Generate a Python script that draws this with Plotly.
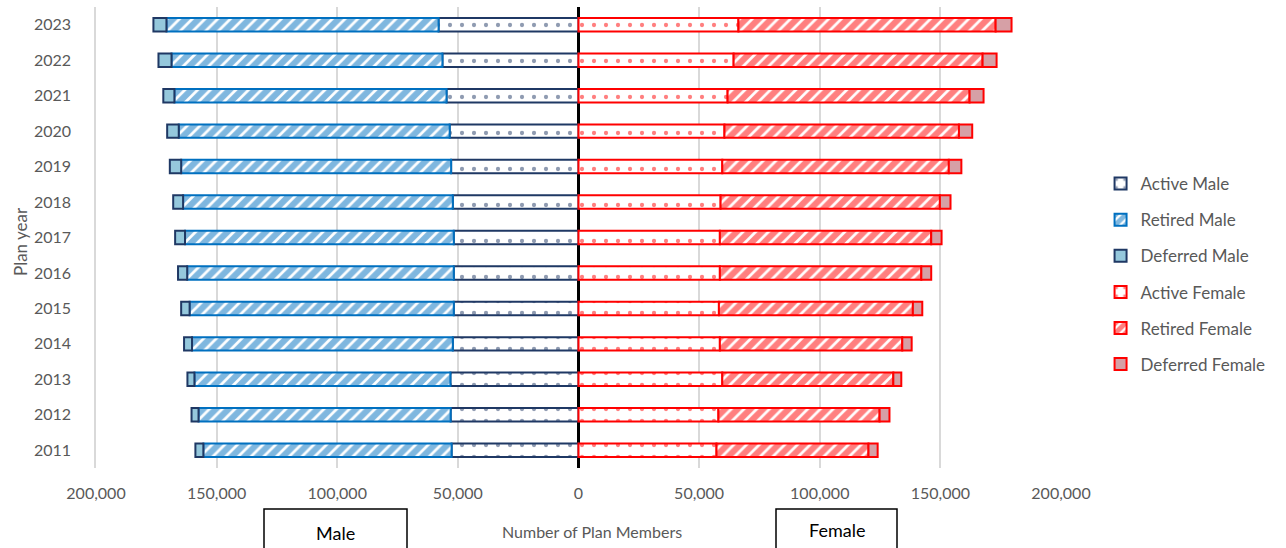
import plotly.graph_objects as go

# Plan years (bottom to top)
years = [str(y) for y in range(2011, 2024)]

# Plan members by status and sex
male_active = [52600, 53000, 53100, 52100, 51700, 51700, 51700, 52100, 52800, 53400, 54700, 56400, 58000]
male_retired = [102900, 104500, 106100, 108100, 109500, 110500, 111400, 111800, 111900, 112300, 112800, 112300, 112800]
male_deferred = [3300, 2900, 2900, 3300, 3500, 3800, 4100, 4100, 4700, 4800, 4600, 5400, 5400]

female_active = [57200, 58000, 59600, 58600, 58200, 58600, 58600, 58900, 59600, 60500, 61800, 64300, 66300]
female_retired = [63000, 66800, 70900, 75600, 80400, 83500, 87600, 90900, 93900, 97200, 100300, 103200, 106600]
female_deferred = [3800, 4100, 3300, 3900, 3900, 4100, 4300, 4400, 5200, 5500, 5800, 5800, 6600]

tick_vals = [-200000, -150000, -100000, -50000, 0, 50000, 100000, 150000, 200000]
tick_text = ["200,000", "150,000", "100,000", "50,000", "0", "50,000", "100,000", "150,000", "200,000"]

NAVY = "#1F3864"
BLUE = "#0070C0"
LIGHT_BLUE = "#95C8DC"
RED = "#FF0000"
PINK_GREY = "#D6A0A6"
GREY_TEXT = "#595959"
FONT = "Lato, 'Open Sans', sans-serif"


def neg(values):
    return [-v for v in values]


def bar(name, x, line_color, fill, pattern=None):
    marker = dict(color=fill, line=dict(color=line_color, width=2))
    if pattern is not None:
        marker["pattern"] = pattern
    return go.Bar(
        name=name, y=years, x=x, orientation="h", marker=marker,
        legendgroup=name,
    )


dots = lambda c: dict(shape=".", fgcolor=c, bgcolor="white", size=12, solidity=0.1, fillmode="overlay")
stripes = lambda c: dict(shape="/", fgcolor=c, bgcolor="white", size=9, solidity=0.7, fillmode="overlay")

fig = go.Figure()
fig.add_trace(bar("Active Male", neg(male_active), NAVY, "white", dots(NAVY)))
fig.add_trace(bar("Retired Male", neg(male_retired), BLUE, "white", stripes(BLUE)))
fig.add_trace(bar("Deferred Male", neg(male_deferred), NAVY, LIGHT_BLUE))
fig.add_trace(bar("Active Female", female_active, RED, "white", dots(RED)))
fig.add_trace(bar("Retired Female", female_retired, RED, "white", stripes(RED)))
fig.add_trace(bar("Deferred Female", female_deferred, RED, PINK_GREY))

fig.update_layout(
    width=1286, height=548,
    margin=dict(l=96, r=225, t=7, b=80),
    paper_bgcolor="white", plot_bgcolor="white",
    barmode="relative", bargap=0.62,
    font=dict(family=FONT, size=16, color=GREY_TEXT),
    showlegend=True,
    legend=dict(
        x=1.041, y=0.655, xanchor="left", yanchor="top",
        traceorder="grouped", tracegroupgap=11,
        font=dict(size=17, color=GREY_TEXT),
        bgcolor="rgba(0,0,0,0)",
    ),
    xaxis=dict(
        range=[-200000, 200000],
        tickvals=tick_vals, ticktext=tick_text,
        showgrid=True, gridcolor="#D9D9D9", gridwidth=1.5,
        zeroline=True, zerolinecolor="black", zerolinewidth=3,
        showline=False, ticks="", ticklabelstandoff=14,
        tickfont=dict(size=16, color=GREY_TEXT),
    ),
    yaxis=dict(
        type="category", categoryorder="array", categoryarray=years,
        showgrid=False, zeroline=False,
        showline=True, linecolor="#D9D9D9", linewidth=1.5,
        ticks="", ticklabelstandoff=20,
        tickfont=dict(size=16, color=GREY_TEXT),
    ),
)

px = lambda p: (p - 96) / 965
py = lambda p: 1 - (p - 7) / 461

fig.add_annotation(
    text="Plan year", xref="paper", yref="paper", x=px(20), y=py(242),
    xanchor="center", yanchor="middle",
    textangle=-90, showarrow=False, font=dict(size=17, color=GREY_TEXT),
)
fig.add_annotation(
    text="Number of Plan Members", xref="paper", yref="paper", x=px(592), y=py(531),
    xanchor="center", yanchor="middle",
    showarrow=False, font=dict(size=16, color=GREY_TEXT),
)

for label, x0, x1, yc in [("Male", 264, 407, 533), ("Female", 776, 897, 530)]:
    fig.add_shape(
        type="rect", xref="paper", yref="paper",
        x0=px(x0), x1=px(x1), y0=py(509), y1=py(560),
        line=dict(color="black", width=1.5), fillcolor="white", layer="above",
    )
    fig.add_annotation(
        text=label, xref="paper", yref="paper", x=px((x0 + x1) / 2), y=py(yc),
        xanchor="center", yanchor="middle",
        showarrow=False, font=dict(size=18, color="black"),
    )

fig.write_html("out.html")
